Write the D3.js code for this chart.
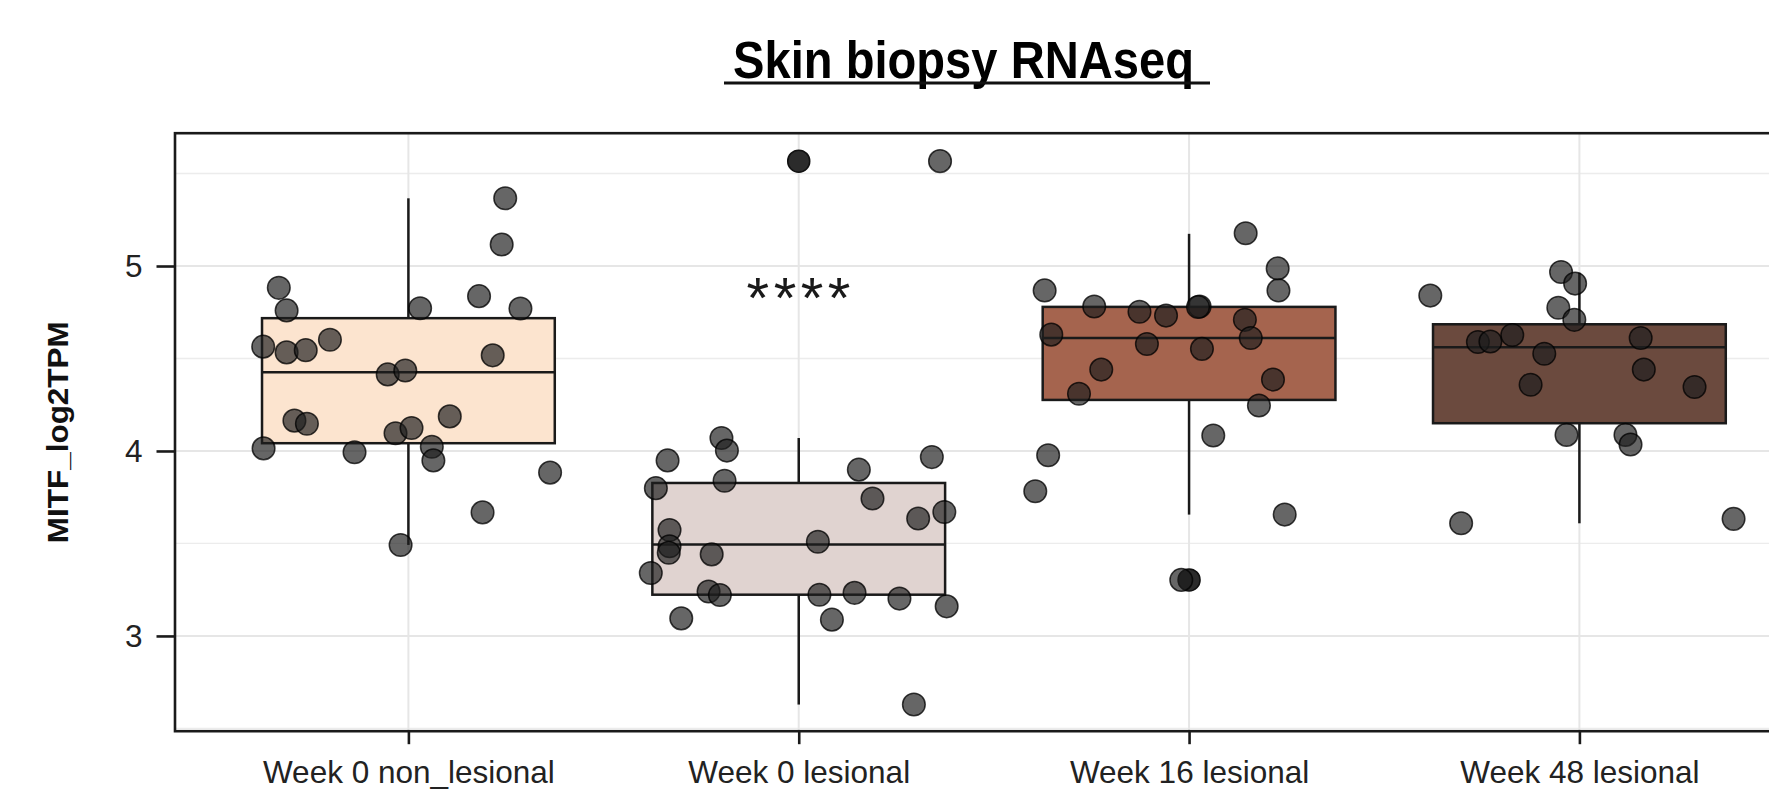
<!DOCTYPE html>
<html>
<head>
<meta charset="utf-8">
<script src="https://cdn.jsdelivr.net/npm/d3@7"></script>
<style>
  body { margin: 0; background: #fff; }
  svg { display: block; font-family: 'Liberation Sans', Arial, Helvetica, sans-serif; }
</style>
</head>
<body>
<div class="graph-container"></div>
<script>
// categories on the x axis
var groups = ['Week 0 non_lesional', 'Week 0 lesional', 'Week 16 lesional', 'Week 48 lesional'];

// box fill per group
var boxColors = ['#fce4cf', '#e0d3d0', '#a5644e', '#6b4a3e'];

// box statistics (lower whisker, q1, median, q3, upper whisker)
var whiskerLow = [3.492, 2.629, 3.656, 3.609];
var q1 = [4.042, 3.223, 4.276, 4.150];
var median = [4.426, 3.495, 4.611, 4.561];
var q3 = [4.718, 3.827, 4.779, 4.685];
var whiskerHigh = [5.366, 4.070, 5.174, 4.964];
var outliers = [[], [5.567], [3.303], []];

// jittered samples: value and horizontal jitter (fraction of category step)
var week0NonLesional = [5.366, 5.116, 4.882, 4.837, 4.760, 4.772, 4.770, 4.564, 4.533, 4.545, 4.601, 4.517, 4.414,
  4.435, 4.164, 4.147, 4.187, 4.096, 4.124, 4.023, 4.014, 3.993, 3.949, 3.883, 3.668, 3.492];
var week0NonLesionalJitter = [0.248, 0.239, -0.332, 0.181, -0.312, 0.030, 0.287, -0.372, -0.312, -0.263, -0.201, 0.216, -0.053,
  -0.008, -0.292, -0.260, 0.106, -0.033, 0.008, 0.060, -0.371, -0.138, 0.064, 0.363, 0.190, -0.020];

var week0Lesional = [5.567, 4.070, 4.002, 3.949, 3.839, 3.799, 3.573, 3.485, 3.450, 3.441, 3.340, 3.240, 3.221, 3.095,
  3.509, 3.223, 3.233, 3.088, 3.899, 3.743, 3.967, 3.635, 3.670, 3.202, 3.160, 2.629];
var week0LesionalJitter = [0.362, -0.198, -0.184, -0.336, -0.190, -0.366, -0.331, -0.331, -0.333, -0.223, -0.379, -0.231, -0.202, -0.301,
  0.049, 0.053, 0.143, 0.085, 0.154, 0.189, 0.341, 0.306, 0.373, 0.258, 0.379, 0.295];

var week16Lesional = [5.177, 4.987, 4.868, 4.868, 4.781, 4.753, 4.732, 4.781, 4.778, 4.709, 4.629, 4.611, 4.578, 4.552,
  4.440, 4.386, 4.309, 4.246, 4.084, 3.977, 3.782, 3.656, 3.303];
var week16LesionalJitter = [0.145, 0.227, 0.229, -0.370, -0.243, -0.127, -0.059, 0.027, 0.023, 0.143, -0.353, 0.158, -0.108, 0.033,
  -0.225, 0.215, -0.282, 0.179, 0.062, -0.361, -0.394, 0.245, -0.020];

var week48Lesional = [4.968, 4.905, 4.840, 4.774, 4.709, 4.627, 4.589, 4.592, 4.611, 4.526, 4.440, 4.358, 4.346,
  4.087, 4.087, 4.035, 3.609, 3.633];
var week48LesionalJitter = [-0.047, -0.011, -0.382, -0.054, -0.013, -0.172, -0.260, -0.228, 0.157, -0.090, 0.165, -0.125, 0.295,
  -0.033, 0.118, 0.131, -0.303, 0.395];

var sampleValues = [week0NonLesional, week0Lesional, week16Lesional, week48Lesional];
var sampleJitter = [week0NonLesionalJitter, week0LesionalJitter, week16LesionalJitter, week48LesionalJitter];

// y ticks and minor grid
var yTicks = [3, 4, 5];
var yMinor = [2.5, 3.5, 4.5, 5.5];

// significance label over Week 0 lesional
var sigLabel = '****';
var sigY = 4.72;

var svgWidth = 1769;
var svgHeight = 799;
var panelLeft = 175;
var panelTop = 133.2;
var panelBottom = 731.2;
var panelRight = 1813;

var svg = d3.select('.graph-container').append('svg')
  .attr('width', svgWidth)
  .attr('height', svgHeight);

var xScale = d3.scalePoint()
  .domain(groups)
  .range([408.4, 1579.4]);
var step = xScale.step();

var yScale = d3.scaleLinear()
  .domain([2.485, 5.718])
  .range([panelBottom, panelTop]);

// grid lines
svg.append('g').selectAll('line')
  .data(yMinor)
  .enter()
  .append('line')
  .attr('x1', panelLeft).attr('x2', panelRight)
  .attr('y1', function(d) { return yScale(d); })
  .attr('y2', function(d) { return yScale(d); })
  .attr('stroke', '#ececec')
  .attr('stroke-width', 1.3);

svg.append('g').selectAll('line')
  .data(yTicks)
  .enter()
  .append('line')
  .attr('x1', panelLeft).attr('x2', panelRight)
  .attr('y1', function(d) { return yScale(d); })
  .attr('y2', function(d) { return yScale(d); })
  .attr('stroke', '#e6e6e6')
  .attr('stroke-width', 2);

svg.append('g').selectAll('line')
  .data(groups)
  .enter()
  .append('line')
  .attr('x1', function(d) { return xScale(d); })
  .attr('x2', function(d) { return xScale(d); })
  .attr('y1', panelTop).attr('y2', panelBottom)
  .attr('stroke', '#e6e6e6')
  .attr('stroke-width', 2);

// boxplots
var boxes = svg.append('g').selectAll('g')
  .data(groups)
  .enter()
  .append('g');

boxes.append('line')
  .attr('x1', function(d) { return xScale(d); })
  .attr('x2', function(d) { return xScale(d); })
  .attr('y1', function(d, i) { return yScale(whiskerHigh[i]); })
  .attr('y2', function(d, i) { return yScale(q3[i]); })
  .attr('stroke', '#1a1a1a')
  .attr('stroke-width', 2.5);

boxes.append('line')
  .attr('x1', function(d) { return xScale(d); })
  .attr('x2', function(d) { return xScale(d); })
  .attr('y1', function(d, i) { return yScale(q1[i]); })
  .attr('y2', function(d, i) { return yScale(whiskerLow[i]); })
  .attr('stroke', '#1a1a1a')
  .attr('stroke-width', 2.5);

boxes.append('rect')
  .attr('x', function(d) { return xScale(d) - step * 0.375; })
  .attr('width', step * 0.75)
  .attr('y', function(d, i) { return yScale(q3[i]); })
  .attr('height', function(d, i) { return yScale(q1[i]) - yScale(q3[i]); })
  .attr('fill', function(d, i) { return boxColors[i]; })
  .attr('stroke', '#1a1a1a')
  .attr('stroke-width', 2.5);

boxes.append('line')
  .attr('x1', function(d) { return xScale(d) - step * 0.375; })
  .attr('x2', function(d) { return xScale(d) + step * 0.375; })
  .attr('y1', function(d, i) { return yScale(median[i]); })
  .attr('y2', function(d, i) { return yScale(median[i]); })
  .attr('stroke', '#1a1a1a')
  .attr('stroke-width', 2.5);

// boxplot outliers
var outlierData = [];
groups.forEach(function(g, i) {
  outliers[i].forEach(function(v) { outlierData.push({ group: g, value: v }); });
});
svg.append('g').selectAll('circle')
  .data(outlierData)
  .enter()
  .append('circle')
  .attr('cx', function(d) { return xScale(d.group); })
  .attr('cy', function(d) { return yScale(d.value); })
  .attr('r', 11)
  .attr('fill', '#2b2b2b')
  .attr('stroke', '#111')
  .attr('stroke-width', 1.5);

// jittered points
var pointData = [];
groups.forEach(function(g, i) {
  sampleValues[i].forEach(function(v, j) {
    pointData.push({ group: g, value: v, jitter: sampleJitter[i][j] });
  });
});
svg.append('g').selectAll('circle')
  .data(pointData)
  .enter()
  .append('circle')
  .attr('cx', function(d) { return xScale(d.group) + d.jitter * step; })
  .attr('cy', function(d) { return yScale(d.value); })
  .attr('r', 11.3)
  .attr('fill', '#1e1e1e')
  .attr('fill-opacity', 0.68)
  .attr('stroke', '#000')
  .attr('stroke-opacity', 0.75)
  .attr('stroke-width', 1.5);

// panel border
svg.append('rect')
  .attr('x', panelLeft)
  .attr('y', panelTop)
  .attr('width', panelRight - panelLeft)
  .attr('height', panelBottom - panelTop)
  .attr('fill', 'none')
  .attr('stroke', '#1a1a1a')
  .attr('stroke-width', 2.6);

// axes
var yAxis = d3.axisLeft(yScale)
  .tickValues(yTicks)
  .tickSize(18.5)
  .tickPadding(14)
  .tickFormat(d3.format('d'));
var yAxisG = svg.append('g')
  .attr('transform', 'translate(' + panelLeft + ',0)')
  .call(yAxis);

var xAxis = d3.axisBottom(xScale)
  .tickSize(13)
  .tickPadding(16);
var xAxisG = svg.append('g')
  .attr('transform', 'translate(0,' + panelBottom + ')')
  .call(xAxis);

[yAxisG, xAxisG].forEach(function(g) {
  g.select('.domain').remove();
  g.selectAll('.tick line')
    .attr('stroke', '#1a1a1a')
    .attr('stroke-width', 2.6);
  g.selectAll('.tick text')
    .attr('fill', '#222')
    .style('font-family', "'Liberation Sans', Arial, sans-serif")
    .style('font-size', '31.5px');
});

// title with underline
svg.append('text')
  .attr('x', 963.5)
  .attr('y', 78)
  .attr('text-anchor', 'middle')
  .attr('textLength', 461)
  .attr('lengthAdjust', 'spacingAndGlyphs')
  .style('font-size', '51px')
  .style('font-weight', 'bold')
  .attr('fill', '#000')
  .text('Skin biopsy RNAseq');

svg.append('line')
  .attr('x1', 963.5 - 461 / 2 - 9)
  .attr('x2', 963.5 + 461 / 2 + 16)
  .attr('y1', 83)
  .attr('y2', 83)
  .attr('stroke', '#111')
  .attr('stroke-width', 3);

// y-axis label
svg.append('text')
  .attr('transform', 'translate(68,' + ((panelTop + panelBottom) / 2) + ') rotate(-90)')
  .attr('text-anchor', 'middle')
  .attr('textLength', 222)
  .attr('lengthAdjust', 'spacingAndGlyphs')
  .style('font-size', '29px')
  .style('font-weight', 'bold')
  .attr('fill', '#111')
  .text('MITF_log2TPM');

// significance label
svg.append('text')
  .attr('x', xScale(groups[1]) + 2)
  .attr('y', yScale(sigY))
  .attr('text-anchor', 'middle')
  .style('font-size', '58px')
  .style('letter-spacing', '4.5px')
  .attr('fill', '#1a1a1a')
  .text(sigLabel);
</script>
</body>
</html>
